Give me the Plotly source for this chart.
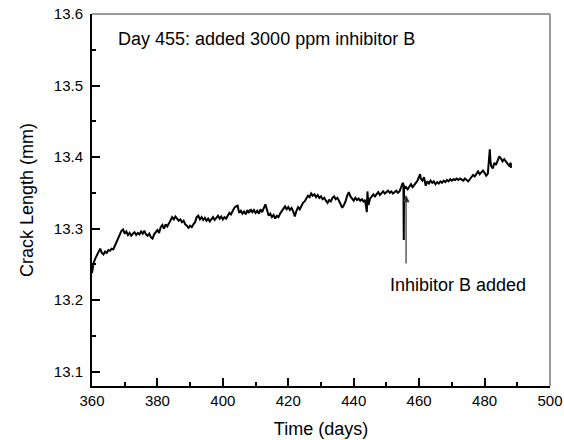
import plotly.graph_objects as go

days = [
    360, 360.5, 361, 361.5, 362, 362.5, 363, 363.5, 364, 364.5, 365, 365.5, 366, 366.5, 367, 367.5,
    368, 368.5, 369, 369.5, 370, 370.5, 371, 371.5, 372, 372.5, 373, 373.5, 374, 374.5, 375, 375.5,
    376, 376.5, 377, 377.5, 378, 378.5, 379, 379.5, 380, 380.5, 381, 381.5, 382, 382.5, 383, 383.5,
    384, 384.5, 385, 385.5, 386, 386.5, 387, 387.5, 388, 388.5, 389, 389.5, 390, 390.5, 391, 391.5,
    392, 392.5, 393, 393.5, 394, 394.5, 395, 395.5, 396, 396.5, 397, 397.5, 398, 398.5, 399, 399.5,
    400, 400.5, 401, 401.5, 402, 402.5, 403, 403.5, 404, 404.5, 405, 405.5, 406, 406.5, 407, 407.5,
    408, 408.5, 409, 409.5, 410, 410.5, 411, 411.5, 412, 412.5, 413, 413.5, 414, 414.5, 415, 415.5,
    416, 416.5, 417, 417.5, 418, 418.5, 419, 419.5, 420, 420.5, 421, 421.5, 422, 422.5, 423, 423.5,
    424, 424.5, 425, 425.5, 426, 426.5, 427, 427.5, 428, 428.5, 429, 429.5, 430, 430.5, 431, 431.5,
    432, 432.5, 433, 433.5, 434, 434.5, 435, 435.5, 436, 436.5, 437, 437.5, 438, 438.5, 439, 439.5,
    440, 440.5, 441, 441.5, 442, 442.5, 443, 443.5, 444, 444.2, 444.5, 445, 445.5, 446, 446.5, 447,
    447.5, 448, 448.5, 449, 449.5, 450, 450.5, 451, 451.5, 452, 452.5, 453, 453.5, 454, 454.5, 455,
    455.2, 455.3, 455.4, 455.7, 456, 456.5, 457, 457.5, 458, 458.5, 459, 459.5, 460, 460.3, 460.5, 461,
    461.5, 462, 462.5, 463, 463.5, 464, 464.5, 465, 465.5, 466, 466.5, 467, 467.5, 468, 468.5, 469,
    469.5, 470, 470.5, 471, 471.5, 472, 472.5, 473, 473.5, 474, 474.5, 475, 475.5, 476, 476.5, 477,
    477.5, 478, 478.5, 479, 479.5, 480, 480.5, 481, 481.3, 481.6, 481.8, 482, 482.5, 483, 483.5, 484,
    484.5, 485, 485.5, 486, 486.5, 487, 487.5, 488, 488.1,
]

crack_mm = [
    13.238, 13.252, 13.258, 13.262, 13.268, 13.272, 13.266, 13.264, 13.268, 13.266, 13.270, 13.269, 13.272, 13.271, 13.276, 13.281,
    13.288, 13.292, 13.297, 13.299, 13.293, 13.296, 13.291, 13.294, 13.290, 13.293, 13.295, 13.291, 13.294, 13.292, 13.296, 13.293,
    13.297, 13.292, 13.290, 13.293, 13.288, 13.286, 13.292, 13.295, 13.298, 13.294, 13.302, 13.305, 13.300, 13.306, 13.303, 13.307,
    13.312, 13.316, 13.313, 13.317, 13.314, 13.311, 13.313, 13.309, 13.311, 13.306, 13.304, 13.301, 13.304, 13.302, 13.306, 13.309,
    13.316, 13.318, 13.313, 13.316, 13.312, 13.315, 13.311, 13.314, 13.310, 13.313, 13.316, 13.312, 13.315, 13.318, 13.314, 13.317,
    13.313, 13.316, 13.314, 13.319, 13.322, 13.320, 13.325, 13.329, 13.331, 13.332, 13.322, 13.325, 13.321, 13.324, 13.320, 13.326,
    13.322, 13.327, 13.323, 13.326, 13.322, 13.325, 13.321, 13.327, 13.323, 13.328, 13.334, 13.326, 13.318, 13.321, 13.316, 13.319,
    13.314, 13.318, 13.316, 13.321, 13.324, 13.328, 13.331, 13.327, 13.330, 13.326, 13.329, 13.324, 13.317, 13.325, 13.330, 13.327,
    13.332, 13.336, 13.338, 13.342, 13.346, 13.344, 13.349, 13.346, 13.348, 13.344, 13.347, 13.343, 13.345, 13.341, 13.343, 13.339,
    13.336, 13.340, 13.338, 13.343, 13.345, 13.341, 13.343, 13.339, 13.334, 13.329, 13.333, 13.338, 13.346, 13.351, 13.345, 13.342,
    13.339, 13.343, 13.340, 13.342, 13.339, 13.341, 13.338, 13.340, 13.323, 13.352, 13.333, 13.342, 13.346, 13.348, 13.345, 13.349,
    13.351, 13.347, 13.350, 13.352, 13.349, 13.351, 13.353, 13.350, 13.352, 13.349, 13.351, 13.353, 13.350, 13.352, 13.358, 13.364,
    13.362, 13.284, 13.360, 13.356, 13.358, 13.355, 13.359, 13.362, 13.358, 13.361, 13.364, 13.367, 13.373, 13.376, 13.370, 13.367,
    13.372, 13.360, 13.366, 13.363, 13.367, 13.364, 13.366, 13.362, 13.365, 13.363, 13.366, 13.364, 13.367, 13.365, 13.368, 13.366,
    13.369, 13.367, 13.369, 13.368, 13.370, 13.368, 13.370, 13.369, 13.367, 13.370, 13.368, 13.366, 13.369, 13.372, 13.375, 13.373,
    13.377, 13.380, 13.376, 13.379, 13.381, 13.378, 13.374, 13.377, 13.391, 13.411, 13.395, 13.388, 13.384, 13.392, 13.389, 13.396,
    13.401, 13.398, 13.394, 13.397, 13.393, 13.391, 13.388, 13.392, 13.385,
]

x_ticks = [360, 380, 400, 420, 440, 460, 480, 500]
y_ticks = [13.1, 13.2, 13.3, 13.4, 13.5, 13.6]
y_tick_text = ["13.1", "13.2", "13.3", "13.4", "13.5", "13.6"]

note_text = "Day 455: added 3000 ppm inhibitor B"
arrow_text = "Inhibitor B added"
arrow_day = 456.0
arrow_tip = 13.347
arrow_tail = 13.249
label_day = 471.8
label_val = 13.221
note_day = 367.4
note_val = 13.565

FONT = "Liberation Sans, Arial, Helvetica, sans-serif"

fig = go.Figure()
fig.add_trace(go.Scatter(
    x=days, y=crack_mm, mode="lines",
    line=dict(color="black", width=2),
    showlegend=False, hoverinfo="skip",
))

fig.update_layout(
    width=564, height=440,
    margin=dict(l=92, r=14, t=14, b=54, autoexpand=False),
    paper_bgcolor="white", plot_bgcolor="white",
    font=dict(family=FONT, color="black", size=15),
    xaxis=dict(
        range=[360, 500], tickvals=x_ticks, ticktext=[str(v) for v in x_ticks],
        ticks="inside", ticklen=8, tickwidth=1.5, tickcolor="black",
        minor=dict(ticks="inside", ticklen=4, tickwidth=1.5, tickcolor="black", dtick=10, tick0=360),
        showline=True, linecolor="black", linewidth=2, showgrid=False, zeroline=False,
        tickfont=dict(size=15), automargin=False, ticklabelstandoff=0,
        title=dict(text="Time (days)", font=dict(size=18), standoff=14),
    ),
    yaxis=dict(
        range=[13.08, 13.6], tickvals=y_ticks, ticktext=y_tick_text,
        ticks="inside", ticklen=8, tickwidth=1.5, tickcolor="black",
        minor=dict(ticks="inside", ticklen=4, tickwidth=1.5, tickcolor="black", dtick=0.05, tick0=13.05),
        showline=True, linecolor="black", linewidth=2, showgrid=False, zeroline=False,
        tickfont=dict(size=15), automargin=False, ticklabelstandoff=4,
        title=dict(text="Crack Length (mm)", font=dict(size=18), standoff=15),
    ),
    shapes=[
        dict(type="line", xref="x domain", yref="y domain", x0=0, x1=1, y0=1, y1=1,
             line=dict(color="#7a7a7a", width=1.5)),
        dict(type="line", xref="x domain", yref="y domain", x0=1, x1=1, y0=0, y1=1,
             line=dict(color="#7a7a7a", width=1.5)),
    ],
    annotations=[
        dict(x=note_day, y=note_val, xref="x", yref="y", text=note_text, showarrow=False,
             xanchor="left", yanchor="middle", font=dict(size=18)),
        dict(x=arrow_day, y=arrow_tip, xref="x", yref="y", ax=arrow_day, ay=arrow_tail,
             axref="x", ayref="y", text="", showarrow=True, arrowhead=2, arrowsize=1.2,
             arrowwidth=1.2, arrowcolor="#333333"),
        dict(x=label_day, y=label_val, xref="x", yref="y", text=arrow_text, showarrow=False,
             xanchor="center", yanchor="middle", font=dict(size=18)),
    ],
)

fig.write_html("out.html")
